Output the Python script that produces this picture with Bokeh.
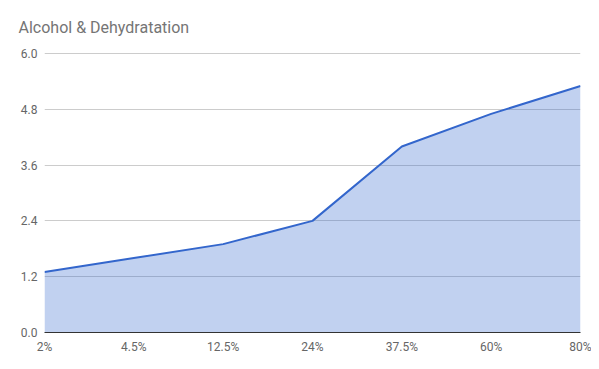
from bokeh.plotting import figure
from bokeh.models import Range1d, FixedTicker, ColumnDataSource
from bokeh.embed import file_html
from bokeh.resources import INLINE

categories = ["2%", "4.5%", "12.5%", "24%", "37.5%", "60%", "80%"]
values = [1.3, 1.6, 1.9, 2.4, 4.0, 4.7, 5.3]
y_ticks = [0.0, 1.2, 2.4, 3.6, 4.8, 6.0]

xs = list(range(len(categories)))
src = ColumnDataSource(dict(x=xs, y=values, base=[0] * len(xs)))

p = figure(width=591, height=361, output_backend="svg", toolbar_location=None,
           x_range=Range1d(0, len(categories) - 1), y_range=Range1d(0, 6.02),
           min_border_left=44, min_border_right=11, min_border_bottom=29, min_border_top=51)

p.title.text = "Alcohol & Dehydratation"
p.title.text_font = "Roboto"
p.title.text_font_size = "16px"
p.title.text_font_style = "normal"
p.title.text_color = "#757575"
p.title.align = "left"
p.title.offset = -26
p.title.standoff = 31

p.varea(x="x", y1="base", y2="y", source=src, fill_color="#3366cc", fill_alpha=0.3)
p.line(x="x", y="y", source=src, line_color="#3366cc", line_width=2)

p.outline_line_color = None
p.xgrid.visible = False
p.ygrid.grid_line_color = "#cccccc"
p.ygrid.ticker = FixedTicker(ticks=y_ticks)

p.yaxis.ticker = FixedTicker(ticks=y_ticks)
p.yaxis.major_label_overrides = {t: f"{t:.1f}" for t in y_ticks}
p.yaxis.axis_line_color = None
p.yaxis.major_label_standoff = 7

p.xaxis.ticker = FixedTicker(ticks=xs)
p.xaxis.major_label_overrides = {i: c for i, c in enumerate(categories)}
p.xaxis.axis_line_color = "#333333"
p.xaxis.axis_line_width = 1
p.xaxis.major_label_standoff = 7

for ax in (p.xaxis, p.yaxis):
    ax.major_tick_line_color = None
    ax.minor_tick_line_color = None
    ax.major_tick_out = 0
    ax.major_tick_in = 0
    ax.minor_tick_out = 0
    ax.major_label_text_font = "Roboto"
    ax.major_label_text_font_size = "12px"
    ax.major_label_text_color = "#666666"

p.background_fill_color = "white"
p.border_fill_color = "white"

open("out.html", "w").write(file_html(p, INLINE))
